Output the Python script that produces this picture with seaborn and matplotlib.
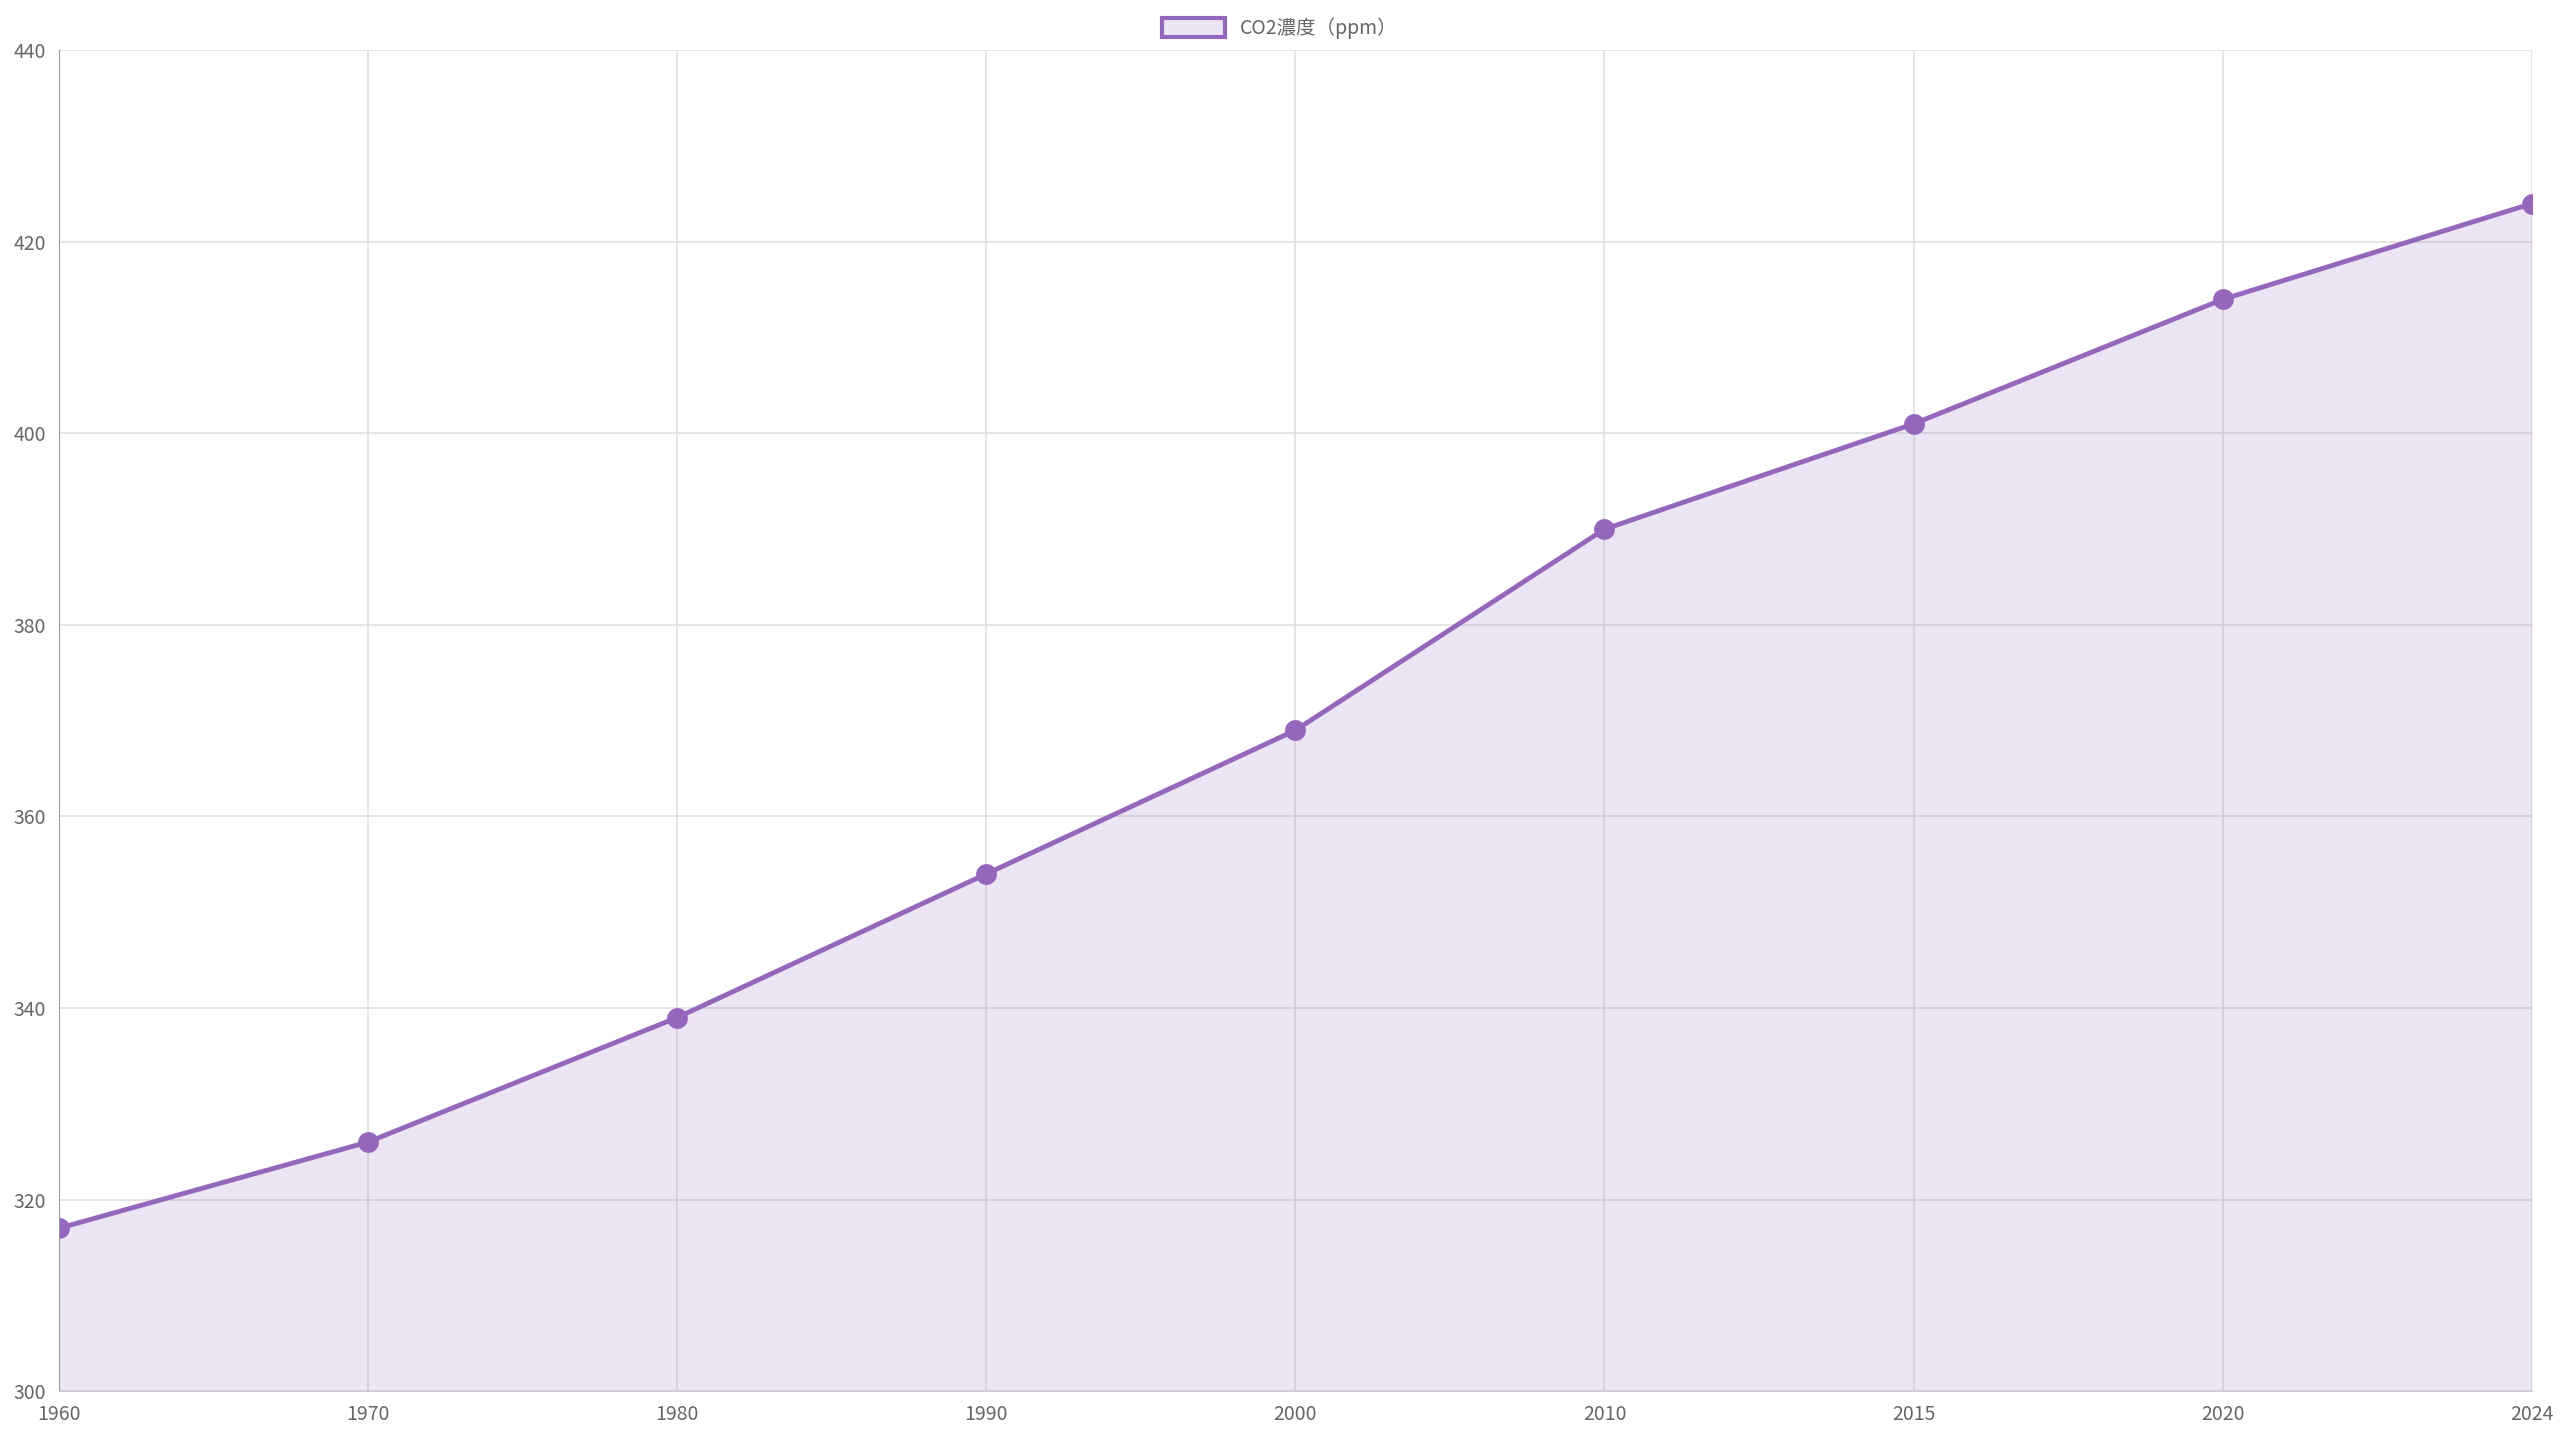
import matplotlib
matplotlib.use("Agg")
import matplotlib.pyplot as plt
import seaborn as sns
import pandas as pd
from matplotlib.patches import Patch

years = ["1960", "1970", "1980", "1990", "2000", "2010", "2015", "2020", "2024"]
co2 = [317, 326, 339, 354, 369, 390, 401, 414, 424]
series_name = "CO2濃度（ppm）"
yticks = [300, 320, 340, 360, 380, 400, 420, 440]

sns.set_style("white")
plt.rcParams['font.family'] = ['Noto Sans CJK JP', 'DejaVu Sans']

color = "#9467bd"
df = pd.DataFrame({"pos": range(len(years)), "year": years, "co2": co2})

fig = plt.figure(figsize=(25.6, 14.4), dpi=100)
ax = fig.add_axes([0.023, 0.034, 0.966, 0.931])
ax.fill_between(df["pos"], 300, df["co2"], color=color, alpha=0.17, linewidth=0)
sns.lineplot(data=df, x="pos", y="co2", ax=ax, color=color, linewidth=3.5,
             marker="o", markersize=15, markeredgewidth=0)

ax.set_xlim(0, len(years) - 1)
ax.set_ylim(300, 440)
ax.set_xticks(range(len(years)))
ax.set_xticklabels(years)
ax.set_yticks(yticks)
ax.grid(True, color="#e0e0e0", linewidth=1.2)
ax.set_xlabel("")
ax.set_ylabel("")
ax.tick_params(axis="both", labelsize=14, colors="#666666", length=6, color="#cccccc")
for s in ["top", "right"]:
    ax.spines[s].set_visible(False)
ax.spines["left"].set_color("#999999")
ax.spines["bottom"].set_color("#cccccc")

handle = Patch(facecolor=(0.58, 0.40, 0.74, 0.17), edgecolor=color, linewidth=3)
fig.legend([handle], [series_name], loc="upper center", bbox_to_anchor=(0.5, 1.0),
           frameon=False, fontsize=14, labelcolor="#666666",
           handlelength=3.2, handleheight=1.1)

fig.savefig("out.png", dpi=100)
